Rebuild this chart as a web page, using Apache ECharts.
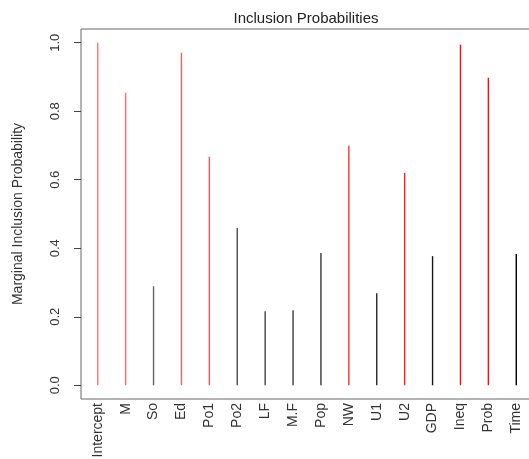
<!DOCTYPE html>
<html><head><meta charset="utf-8">
<script src="https://cdn.jsdelivr.net/npm/echarts@6/dist/echarts.min.js"></script>
<style>html,body{margin:0;padding:0;background:#fff}#c{width:529px;height:459px}</style>
</head><body><div id="c"></div>
<script>
const categories = ['Intercept','M','So','Ed','Po1','Po2','LF','M.F','Pop','NW','U1','U2','GDP','Ineq','Prob','Time'];
const probs = [1.0, 0.854, 0.289, 0.971, 0.667, 0.459, 0.216, 0.219, 0.386, 0.699, 0.269, 0.620, 0.377, 0.994, 0.898, 0.383];
const yTicks = [0, 0.2, 0.4, 0.6, 0.8, 1.0];

const font = 'Liberation Sans, Arial, sans-serif';
// red when inclusion probability > 0.5, black otherwise; lighter toward the left as in the reference rendering
function barColor(p, i) {
  const f = 0.45 * (1 - i / (categories.length - 1));
  const base = p > 0.5 ? [255, 0, 0] : [0, 0, 0];
  const c = base.map(v => Math.round(v + (255 - v) * f));
  return 'rgb(' + c.join(',') + ')';
}
const chart = echarts.init(document.getElementById('c'));
chart.setOption({
  animation: false,
  title: {text: 'Inclusion Probabilities', left: 301, top: 6, textAlign: 'center',
    textStyle: {fontFamily: font, fontSize: 15, fontWeight: 'normal', color: '#222'}},
  grid: {left: 81, top: 29, width: 452, height: 370, outerBoundsMode: 'none', containLabel: false,
    show: true, borderColor: '#666', borderWidth: 1, backgroundColor: 'transparent'},
  xAxis: {type: 'value', min: 0.4, max: 16.6,
    axisLine: {show: false}, axisTick: {show: false}, splitLine: {show: false},
    axisLabel: {customValues: categories.map((c, i) => i + 1), rotate: 90, margin: 4,
      formatter: v => categories[Math.round(v) - 1] || '',
      fontFamily: font, fontSize: 14, color: '#333'}},
  yAxis: {type: 'value', min: -0.04, max: 1.04,
    name: 'Marginal Inclusion Probability', nameLocation: 'middle', nameGap: 56,
    nameTextStyle: {fontFamily: font, fontSize: 14, color: '#333'},
    axisLine: {show: false}, splitLine: {show: false},
    axisTick: {show: true, customValues: yTicks, length: 7, lineStyle: {color: '#444'}},
    axisLabel: {customValues: yTicks, rotate: 90, margin: 19,
      formatter: v => v.toFixed(1), fontFamily: font, fontSize: 13, color: '#333'}},
  series: [{type: 'bar', barWidth: 1.4,
    data: probs.map((p, i) => ({value: [i + 1, p], itemStyle: {color: barColor(p, i)}}))}]
});
</script></body></html>
